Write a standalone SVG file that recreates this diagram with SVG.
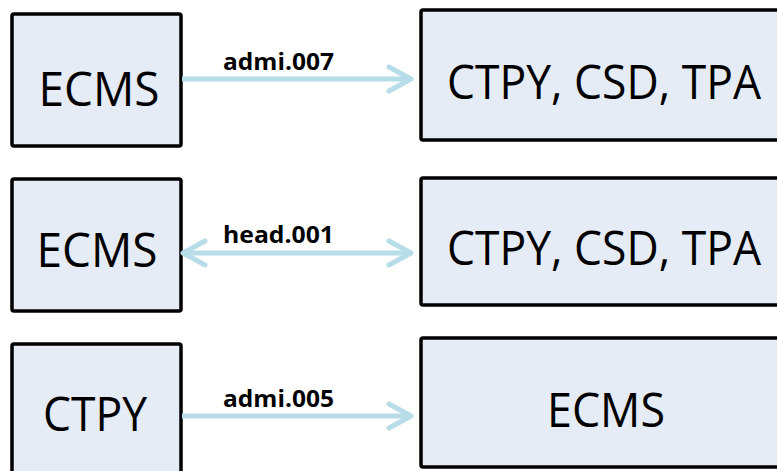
<svg xmlns="http://www.w3.org/2000/svg" width="777" height="471" viewBox="0 0 777 471">
<style>
.box{fill:#E5ECF6;stroke:#000;stroke-width:3.5;stroke-linejoin:round}
.big{font-family:"Open Sans","Noto Sans","Liberation Sans",sans-serif;font-size:47px;fill:#000;text-anchor:middle}
.lbl{font-family:"Open Sans","Noto Sans","Liberation Sans",sans-serif;font-size:22.5px;font-weight:bold;fill:#000}
.conn{stroke:#B7DDE8;stroke-width:5;fill:none}
</style>
<defs>
<marker id="chev" markerUnits="userSpaceOnUse" markerWidth="30" markerHeight="30" viewBox="0 0 30 30" refX="26" refY="15" orient="auto-start-reverse">
<path d="M4,3 L26,15 L4,27" fill="none" stroke="#B7DDE8" stroke-width="5" stroke-linecap="round" stroke-linejoin="round"/>
</marker>
</defs>
<g id="n-ecms-1"><rect class="box" x="12" y="14" width="169" height="132" rx="2"/><text class="big" x="99" y="106" textLength="121" lengthAdjust="spacingAndGlyphs">ECMS</text></g>
<g id="n-ctpy-csd-tpa-1"><rect class="box" x="421" y="10" width="380" height="130" rx="2"/><text class="big" x="604" y="99" textLength="314" lengthAdjust="spacingAndGlyphs">CTPY, CSD, TPA</text></g>
<g id="n-ecms-2"><rect class="box" x="12" y="179" width="169" height="132" rx="2"/><text class="big" x="97" y="267" textLength="121" lengthAdjust="spacingAndGlyphs">ECMS</text></g>
<g id="n-ctpy-csd-tpa-2"><rect class="box" x="421" y="178" width="380" height="127" rx="2"/><text class="big" x="604" y="265" textLength="314" lengthAdjust="spacingAndGlyphs">CTPY, CSD, TPA</text></g>
<g id="n-ctpy-3"><rect class="box" x="12" y="344" width="169" height="140" rx="2"/><text class="big" x="95" y="431" textLength="104" lengthAdjust="spacingAndGlyphs">CTPY</text></g>
<g id="n-ecms-3"><rect class="box" x="421" y="338" width="380" height="129" rx="2"/><text class="big" x="606" y="427" textLength="118" lengthAdjust="spacingAndGlyphs">ECMS</text></g>
<g id="connectors">
<line class="conn" x1="182" y1="79" x2="411" y2="79" marker-end="url(#chev)"/>
<text class="lbl" x="223" y="70" textLength="111" lengthAdjust="spacingAndGlyphs">admi.007</text>
<line class="conn" x1="183" y1="253" x2="411" y2="253" marker-start="url(#chev)" marker-end="url(#chev)"/>
<text class="lbl" x="223" y="243" textLength="111" lengthAdjust="spacingAndGlyphs">head.001</text>
<line class="conn" x1="182" y1="416" x2="411" y2="416" marker-end="url(#chev)"/>
<text class="lbl" x="223" y="407" textLength="111" lengthAdjust="spacingAndGlyphs">admi.005</text>
</g>
</svg>
